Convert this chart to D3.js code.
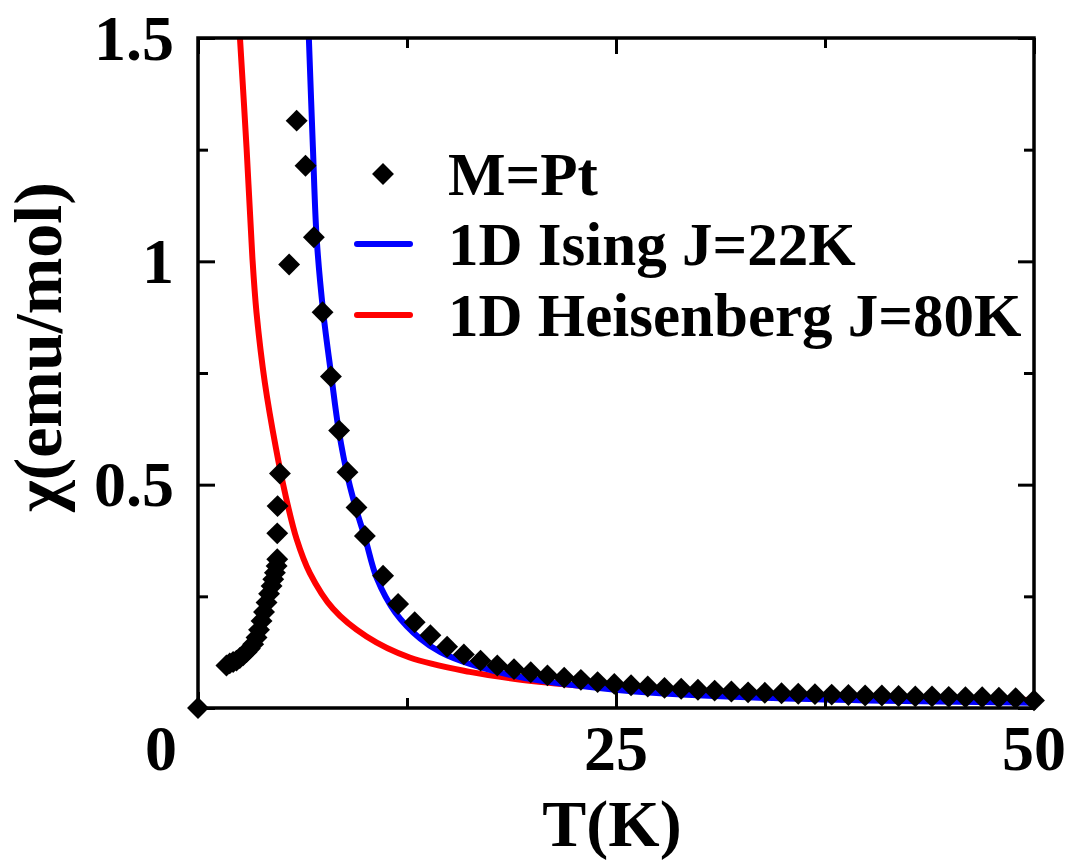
<!DOCTYPE html>
<html>
<head>
<meta charset="utf-8">
<script src="https://cdn.jsdelivr.net/npm/d3@7"></script>
<style>
  html, body { margin: 0; padding: 0; background: #fff; }
  svg { display: block; }
  text { font-family: "Liberation Serif", "Times New Roman", serif; font-weight: bold; fill: #000; }
</style>
</head>
<body>
<svg id="chart" width="1068" height="862"></svg>
<script>
// ---- data ----
const ptT   = [0, 1.7, 1.9, 2.1, 2.3, 2.5, 2.7, 2.9, 3.1, 3.3, 3.5, 3.65, 3.8, 3.95, 4.1, 4.25, 4.4, 4.5, 4.6, 4.7, 4.74, 4.74, 4.76, 4.9, 5.45, 5.9,
               6.43, 6.93, 7.45, 7.95, 8.44, 8.94, 9.48, 9.98, 11.07, 11.97, 12.96, 13.9, 14.9, 15.9, 16.9, 17.9, 18.9, 19.9, 20.9, 21.9, 22.9, 23.9,
               24.9, 25.9, 26.9, 27.9, 28.9, 29.9, 30.9, 31.9, 32.9, 33.9, 34.9, 35.9, 36.9, 37.9, 38.9, 39.9, 40.9, 41.9, 42.9, 43.9, 44.9, 45.9,
               46.9, 47.9, 48.9, 50];
const ptChi = [0, 0.095, 0.100, 0.103, 0.106, 0.112, 0.118, 0.125, 0.133, 0.143, 0.158, 0.175, 0.195, 0.215, 0.236, 0.256, 0.273, 0.288, 0.303, 0.318, 0.333, 0.391, 0.452, 0.525, 0.993, 1.315,
               1.214, 1.054, 0.886, 0.742, 0.621, 0.528, 0.449, 0.385, 0.296, 0.233, 0.192, 0.163, 0.137, 0.120, 0.106, 0.095, 0.087, 0.080, 0.073, 0.068, 0.063, 0.058,
               0.054, 0.051, 0.048, 0.045, 0.043, 0.041, 0.039, 0.037, 0.035, 0.034, 0.033, 0.032, 0.031, 0.030, 0.029, 0.028, 0.028, 0.027, 0.026, 0.026, 0.025, 0.024,
               0.024, 0.023, 0.022, 0.017];

const isingT   = [6.63, 6.87, 7.1, 7.49, 7.98, 8.42, 9.0, 9.5, 10.0, 10.7, 11.8, 13.3, 14.5, 16.3, 19.2, 23.2, 27.2, 32.0, 40.0, 50.0];
const isingChi = [1.5, 1.257, 1.05, 0.886, 0.742, 0.621, 0.51, 0.44, 0.38, 0.29, 0.214, 0.155, 0.125, 0.098, 0.070, 0.048, 0.034, 0.025, 0.017, 0.012];

const heisT   = [2.51, 2.91, 3.25, 3.5, 4.0, 4.66, 5.2, 5.9, 6.69, 8.08, 10.08, 12.66, 16.25, 19.2, 23.2, 27.2, 32.2, 40.0, 50.0];
const heisChi = [1.5, 1.25, 1.01, 0.885, 0.728, 0.582, 0.482, 0.378, 0.302, 0.222, 0.160, 0.113, 0.081, 0.064, 0.049, 0.038, 0.030, 0.023, 0.018];

const xTickLabels = ["0", "25", "50"];
const yTickLabels = ["0.5", "1", "1.5"];
const legendLabels = ["M=Pt", "1D Ising J=22K", "1D Heisenberg J=80K"];
const seriesColors = ["#000000", "#0000ff", "#ff0000"];

// ---- layout ----
const svg = d3.select("#chart");
const pL = 198, pR = 1034, pT = 38, pB = 708;
const x = d3.scaleLinear().domain([0, 50]).range([pL, pR]);
const y = d3.scaleLinear().domain([0, 1.5]).range([pB, pT]);

// curves
const line = d3.line().x(d => x(d[0])).y(d => y(d[1])).curve(d3.curveCatmullRom.alpha(0.5));
const ising = isingT.map((t, i) => [t, isingChi[i]]);
const heis = heisT.map((t, i) => [t, heisChi[i]]);

svg.append("defs").append("clipPath").attr("id", "clip")
  .append("rect").attr("x", pL).attr("y", pT).attr("width", pR - pL).attr("height", pB - pT);

const plot = svg.append("g");
plot.append("path").datum(heis).attr("d", line)
  .attr("fill", "none").attr("stroke", seriesColors[2]).attr("stroke-width", 6).attr("clip-path", "url(#clip)");
plot.append("path").datum(ising).attr("d", line)
  .attr("fill", "none").attr("stroke", seriesColors[1]).attr("stroke-width", 6).attr("clip-path", "url(#clip)");

// markers
const diamond = d3.symbol().type(d3.symbolSquare).size(240);
const pts = ptT.map((t, i) => [t, ptChi[i]]);
plot.selectAll("path.pt").data(pts).enter().append("path")
  .attr("class", "pt")
  .attr("d", diamond)
  .attr("transform", d => `translate(${x(d[0])},${y(d[1])}) rotate(45)`)
  .attr("fill", seriesColors[0]);

// ---- axes (inward ticks on all sides) ----
function styleAxis(g) {
  g.select(".domain").remove();
  g.selectAll(".tick line").attr("stroke", "#000").attr("stroke-width", 3);
}
const xMajor = [0, 25, 50], xMinor = [12.5, 37.5];
const yMajor = [0, 0.5, 1, 1.5], yMinor = [0.25, 0.75, 1.25];

svg.append("g").attr("transform", `translate(0,${pB})`)
  .call(d3.axisBottom(x).tickValues(xMajor).tickSizeInner(-16).tickSizeOuter(0).tickFormat(""))
  .call(styleAxis);
svg.append("g").attr("transform", `translate(0,${pB})`)
  .call(d3.axisBottom(x).tickValues(xMinor).tickSizeInner(-10).tickSizeOuter(0).tickFormat(""))
  .call(styleAxis);
svg.append("g").attr("transform", `translate(0,${pT})`)
  .call(d3.axisTop(x).tickValues(xMajor).tickSizeInner(-16).tickSizeOuter(0).tickFormat(""))
  .call(styleAxis);
svg.append("g").attr("transform", `translate(0,${pT})`)
  .call(d3.axisTop(x).tickValues(xMinor).tickSizeInner(-10).tickSizeOuter(0).tickFormat(""))
  .call(styleAxis);
svg.append("g").attr("transform", `translate(${pL},0)`)
  .call(d3.axisLeft(y).tickValues(yMajor).tickSizeInner(-17).tickSizeOuter(0).tickFormat(""))
  .call(styleAxis);
svg.append("g").attr("transform", `translate(${pL},0)`)
  .call(d3.axisLeft(y).tickValues(yMinor).tickSizeInner(-10).tickSizeOuter(0).tickFormat(""))
  .call(styleAxis);
svg.append("g").attr("transform", `translate(${pR},0)`)
  .call(d3.axisRight(y).tickValues(yMajor).tickSizeInner(-16).tickSizeOuter(0).tickFormat(""))
  .call(styleAxis);
svg.append("g").attr("transform", `translate(${pR},0)`)
  .call(d3.axisRight(y).tickValues(yMinor).tickSizeInner(-10).tickSizeOuter(0).tickFormat(""))
  .call(styleAxis);

// frame
svg.append("rect").attr("x", pL).attr("y", pT).attr("width", pR - pL).attr("height", pB - pT)
  .attr("fill", "none").attr("stroke", "#000").attr("stroke-width", 3.5);

// tick labels
const yLabVals = [0.5, 1, 1.5];
svg.append("g").selectAll("text").data(yLabVals).enter().append("text")
  .attr("x", 174).attr("y", d => y(d)).attr("dy", "0.34em")
  .attr("text-anchor", "end").attr("font-size", 64)
  .text((d, i) => yTickLabels[i]);
const xLabVals = [0, 25, 50];
svg.append("g").selectAll("text").data(xLabVals).enter().append("text")
  .attr("x", d => d === 0 ? x(d) - 37 : x(d)).attr("y", 748).attr("dy", "0.34em")
  .attr("text-anchor", "middle").attr("font-size", 64)
  .text((d, i) => xTickLabels[i]);

// axis titles
svg.append("text").attr("x", 612).attr("y", 846).attr("text-anchor", "middle").attr("font-size", 66).text("T(K)");
svg.append("text").attr("transform", "translate(61,347) rotate(-90)").attr("text-anchor", "middle").attr("font-size", 68)
  .text("χ(emu/mol)");

// legend
const lg = svg.append("g");
const rowY = [174, 244, 315];
lg.append("path").attr("d", diamond).attr("transform", `translate(383,${rowY[0]}) rotate(45)`).attr("fill", seriesColors[0]);
[1, 2].forEach(i => {
  lg.append("line").attr("x1", 357).attr("x2", 410).attr("y1", rowY[i]).attr("y2", rowY[i])
    .attr("stroke", seriesColors[i]).attr("stroke-width", 6).attr("stroke-linecap", "round");
});
lg.selectAll("text").data(legendLabels).enter().append("text")
  .attr("x", 448).attr("y", (d, i) => rowY[i] + 21).attr("font-size", 61)
  .text(d => d);
</script>
</body>
</html>
